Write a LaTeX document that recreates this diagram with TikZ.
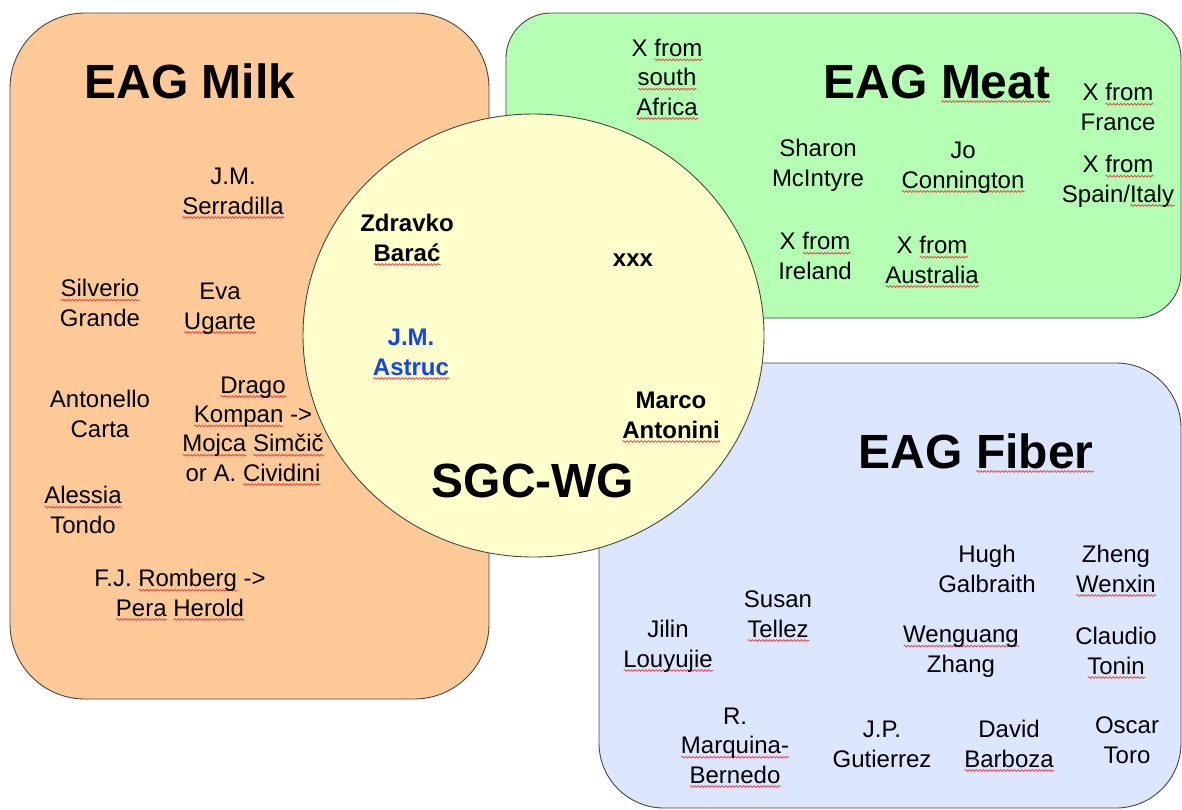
\documentclass[tikz,border=0pt]{standalone}
\usepackage{fontspec}
\setmainfont{Liberation Sans}
\usetikzlibrary{decorations.pathmorphing}
\definecolor{milk}{RGB}{255,202,152}
\definecolor{meat}{RGB}{180,255,180}
\definecolor{fiber}{RGB}{221,230,255}
\definecolor{sgc}{RGB}{255,255,204}
\definecolor{jmblue}{RGB}{20,70,230}
\definecolor{squig}{RGB}{228,60,60}
\definecolor{edge}{RGB}{70,70,70}
\newsavebox\sqbox
\newcommand\sq[1]{\sbox\sqbox{#1}\rlap{\tikz[baseline=0pt]\draw[squig,line width=0.7pt,decorate,decoration={snake,amplitude=0.9pt,segment length=3.5pt}] (0pt,-3.5pt) -- (\wd\sqbox,-3.5pt);}\usebox\sqbox}
\tikzset{
  grp/.style={draw=edge, line width=0.9pt},
  nm/.style={anchor=base, align=center, inner sep=0pt, font=\fontsize{24}{29.3}\selectfont},
  bnm/.style={anchor=base, align=center, inner sep=0pt, font=\fontsize{24}{29.3}\selectfont\bfseries},
  ttl/.style={anchor=base, inner sep=0pt, font=\fontsize{48}{56}\selectfont\bfseries},
}
\begin{document}
\begin{tikzpicture}[x=1pt,y=-1pt]
\useasboundingbox (0,0) rectangle (1182,809);
% groups
\draw[grp, fill=milk, rounded corners=75pt] (10,13) rectangle (489,699);
\draw[grp, fill=meat, rounded corners=45pt] (506,13) rectangle (1181,318);
\draw[grp, fill=fiber, rounded corners=65pt] (599,363) rectangle (1181,808);
\draw[grp, fill=sgc] (533.5,335.5) ellipse [x radius=230.5pt, y radius=221.5pt];
% Milk (node positions: baseline of last line)
\node[ttl] (milk) at (190,98) {EAG Milk};
\node[nm] (serr) at (233,214) {J.M.\\\sq{Serradilla}};
\node[nm] (silv) at (100,326) {\sq{Silverio}\\Grande};
\node[nm] (eva) at (220,329) {Eva\\\sq{Ugarte}};
\node[nm] (anto) at (100,437) {Antonello\\Carta};
\node[nm] (drago) at (253,481) {\sq{Drago}\\\sq{Kompan} ->\\\sq{Mojca} \sq{Simčič}\\or A. \sq{Cividini}};
\node[nm] (aless) at (83,533) {\sq{Alessia}\\Tondo};
\node[nm] (romb) at (180,616) {F.J. \sq{Romberg} ->\\\sq{Pera} \sq{Herold}};
% SGC-WG
\node[bnm] (zdr) at (407,261) {Zdravko\\\sq{Barać}};
\node[bnm] (xxx) at (633,266) {xxx};
\node[bnm, text=jmblue] (astr) at (411,375) {J.M.\\\sq{Astruc}};
\node[bnm] (marco) at (671,438) {Marco\\\sq{Antonini}};
\node[ttl] (sgcwg) at (533,497) {SGC-WG};
% Meat
\node[nm] (saf) at (667,115) {X \sq{from}\\\sq{south}\\\sq{Africa}};
\node[ttl] (meatt) at (937,98) {EAG \sq{Meat}};
\node[nm] (fra) at (1118,130) {X \sq{from}\\France};
\node[nm] (shar) at (818,186) {Sharon\\McIntyre};
\node[nm] (jo) at (963,188) {Jo\\\sq{Connington}};
\node[nm] (spit) at (1118,202) {X \sq{from}\\Spain/\sq{Italy}};
\node[nm] (irl) at (815,279) {X \sq{from}\\Ireland};
\node[nm] (aus) at (932,283) {X \sq{from}\\\sq{Australia}};
% Fiber
\node[ttl] (fibt) at (976,468) {EAG \sq{Fiber}};
\node[nm] (hugh) at (987,592) {Hugh\\Galbraith};
\node[nm] (zheng) at (1116,592) {Zheng\\\sq{Wenxin}};
\node[nm] (susan) at (778,637) {Susan\\\sq{Tellez}};
\node[nm] (jilin) at (668,667) {Jilin\\\sq{Louyujie}};
\node[nm] (weng) at (961,672) {\sq{Wenguang}\\Zhang};
\node[nm] (claud) at (1116,674) {Claudio\\\sq{Tonin}};
\node[nm] (marq) at (735,783) {R.\\\sq{Marquina-}\\\sq{Bernedo}};
\node[nm] (jp) at (882,767) {J.P.\\Gutierrez};
\node[nm] (david) at (1009,767) {David\\\sq{Barboza}};
\node[nm] (oscar) at (1127,763) {Oscar\\Toro};
\end{tikzpicture}
\end{document}
